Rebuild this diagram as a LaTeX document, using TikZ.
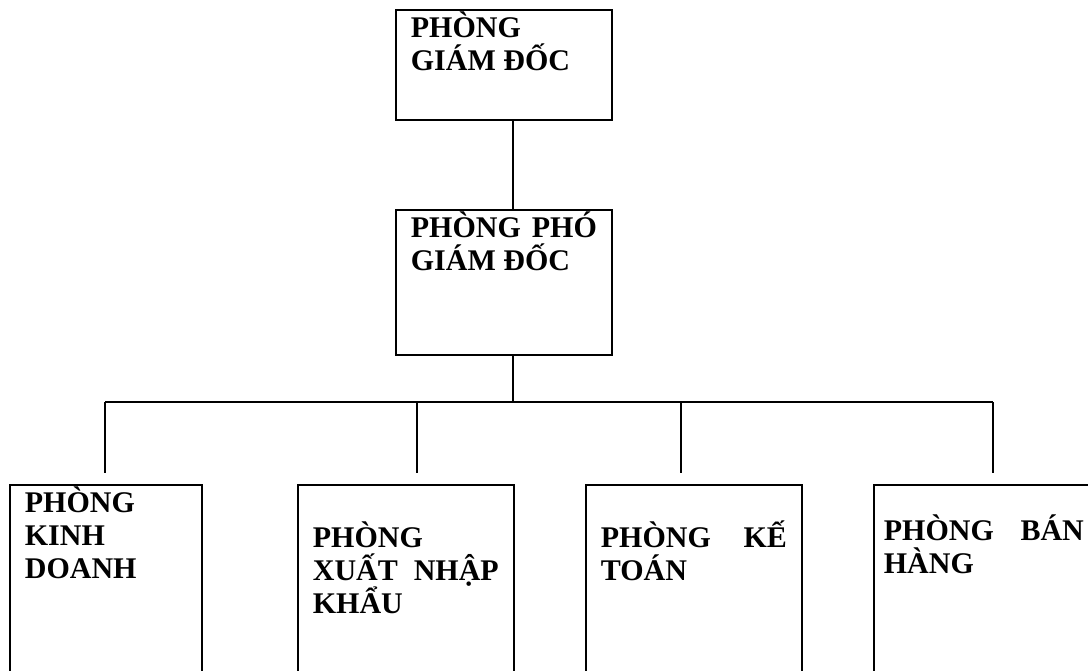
\documentclass[tikz,border=0pt]{standalone}
\usepackage{fontspec}
\setmainfont{Liberation Serif}
\usetikzlibrary{positioning, calc}

\tikzset{
  dept/.style={draw, rectangle, line width=0.85pt, anchor=north west,
    inner xsep=7.5pt, inner ysep=0pt, text width=93pt, align=justify,
    font=\bfseries\fontsize{15}{16.5}\selectfont, text height=14pt},
  link/.style={line width=0.6pt}
}

\begin{document}
\begin{tikzpicture}[x=0.5pt, y=-0.5pt]
    \clip (0,0) rectangle (1088,670);

    % top of the chart
    \node[dept, text depth=41pt] (gd) at (395,9) {PHÒNG\\GIÁM ĐỐC};
    \node[dept, text depth=58.5pt] (pgd) at (395,209) {PHÒNG\hfill PHÓ\\GIÁM ĐỐC};

    % departments
    \node[dept, text width=81pt, text depth=86pt] (kd) at (9,484) {PHÒNG\\KINH\\DOANH};
    \node[dept, text height=31.5pt, text depth=68.5pt] (xnk) at (297,484) {PHÒNG\\XUẤT\hfill NHẬP\\KHẨU};
    \node[dept, text height=31.5pt, text depth=68.5pt] (kt) at (585,484) {PHÒNG\hfill KẾ\\TOÁN};
    \node[dept, inner xsep=5pt, text width=100pt, text height=28pt, text depth=72pt] (bh) at (873,484) {PHÒNG\hfill BÁN\\HÀNG};

    \coordinate (bus) at (513,402);
    \coordinate (dropend) at (0,473);
    \foreach \x/\n in {105/d1, 417/d2, 681/d3, 993/d4}
        \coordinate (\n) at (\x,402);

    \draw[link] (gd.south -| bus) -- (pgd.north -| bus);
    \draw[link] (pgd.south -| bus) -- (bus);
    \draw[link] (d1) -- (d4);
    \foreach \n in {d1, d2, d3, d4}
        \draw[link] (\n) -- (\n |- dropend);
\end{tikzpicture}
\end{document}
